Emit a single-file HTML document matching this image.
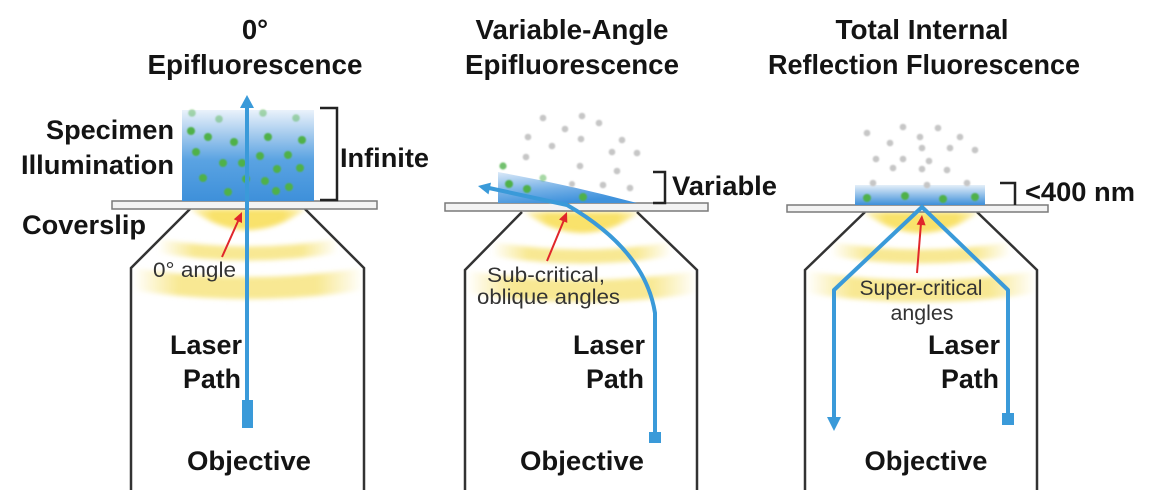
<!DOCTYPE html>
<html>
<head>
<meta charset="utf-8">
<style>
  html,body{margin:0;padding:0;background:#fff;}
  svg{display:block;}
  .b{font-family:"Liberation Sans",Arial,sans-serif;font-weight:bold;font-size:27px;fill:#141414;}
  .t{font-family:"Liberation Sans",Arial,sans-serif;font-weight:bold;font-size:27.5px;fill:#141414;}
  .s{font-family:"Liberation Sans",Arial,sans-serif;font-size:21px;fill:#333;}
</style>
</head>
<body>
<svg width="1150" height="502" viewBox="0 0 1150 502" xmlns="http://www.w3.org/2000/svg">
  <defs>
    <linearGradient id="yg" x1="0" y1="0" x2="1" y2="0">
      <stop offset="0" stop-color="#f6e378" stop-opacity="0"/>
      <stop offset="0.2" stop-color="#f6e378" stop-opacity="0.8"/>
      <stop offset="0.8" stop-color="#f6e378" stop-opacity="0.8"/>
      <stop offset="1" stop-color="#f6e378" stop-opacity="0"/>
    </linearGradient>
    <linearGradient id="yg1" x1="0" y1="0" x2="1" y2="0">
      <stop offset="0" stop-color="#f8e062" stop-opacity="0.35"/>
      <stop offset="0.2" stop-color="#f8e062" stop-opacity="0.95"/>
      <stop offset="0.8" stop-color="#f8e062" stop-opacity="0.95"/>
      <stop offset="1" stop-color="#f8e062" stop-opacity="0.35"/>
    </linearGradient>
    <linearGradient id="b1" x1="0" y1="0" x2="0" y2="1">
      <stop offset="0" stop-color="#eaf2fb"/>
      <stop offset="0.3" stop-color="#9cc6ec"/>
      <stop offset="0.55" stop-color="#5aa3e2"/>
      <stop offset="1" stop-color="#3e90da"/>
    </linearGradient>
    <linearGradient id="b2" x1="0" y1="0" x2="0.4" y2="1">
      <stop offset="0" stop-color="#dbe9f8"/>
      <stop offset="0.6" stop-color="#73afe6"/>
      <stop offset="1" stop-color="#3f92dc"/>
    </linearGradient>
    <linearGradient id="b3" x1="0" y1="0" x2="0" y2="1">
      <stop offset="0" stop-color="#e4eff9"/>
      <stop offset="1" stop-color="#3d8fd9"/>
    </linearGradient>
    <filter id="bl" x="-20%" y="-50%" width="140%" height="200%"><feGaussianBlur stdDeviation="2.5"/></filter>
    <filter id="bl1" x="-50%" y="-50%" width="200%" height="200%"><feGaussianBlur stdDeviation="0.7"/></filter>
  </defs>

  <!-- Yellow illumination bands -->
  <g filter="url(#bl)">
    <path d="M190,209 L306,209 Q248,251 190,209 Z" fill="url(#yg1)"/>
    <path d="M158,246 Q248,261 338,246" fill="none" stroke="url(#yg)" stroke-width="14"/>
    <path d="M133,279 Q248,297 363,279" fill="none" stroke="url(#yg)" stroke-width="22"/>

    <path d="M524,212 L640,212 Q582,254 524,212 Z" fill="url(#yg1)"/>
    <path d="M492,249 Q582,264 672,249" fill="none" stroke="url(#yg)" stroke-width="14"/>
    <path d="M467,282 Q582,300 697,282" fill="none" stroke="url(#yg)" stroke-width="22"/>

    <path d="M863,212 L979,212 Q921,254 863,212 Z" fill="url(#yg1)"/>
    <path d="M831,249 Q921,264 1011,249" fill="none" stroke="url(#yg)" stroke-width="14"/>
    <path d="M806,282 Q921,300 1036,282" fill="none" stroke="url(#yg)" stroke-width="22"/>
  </g>

  <!-- Objectives -->
  <g fill="none" stroke="#333" stroke-width="2.5">
    <polyline points="190,209 131,268 131,490"/>
    <polyline points="305,209 364,268 364,490"/>
    <polyline points="522,212 465,270 465,490"/>
    <polyline points="637,212 697,270 697,490"/>
    <polyline points="865,212 805,270 805,490"/>
    <polyline points="977,212 1037,270 1037,490"/>
  </g>

  <!-- Coverslips -->
  <g fill="#f3f3f3" stroke="#7a7a7a" stroke-width="1.5">
    <rect x="112" y="201" width="265" height="8"/>
    <rect x="445" y="203" width="263" height="8"/>
    <rect x="787" y="205" width="261" height="7"/>
  </g>

  <!-- Specimens -->
  <rect x="182" y="110" width="132" height="91" fill="url(#b1)"/>
  <path d="M498,172 Q570,185 637,203 L498,203 Z" fill="url(#b2)"/>
  <rect x="855" y="185" width="130" height="20" fill="url(#b3)"/>

  <!-- Gray dots -->
  <g fill="#c6c6c6" filter="url(#bl1)">
    <circle cx="543" cy="118" r="3.3"/><circle cx="582" cy="116" r="3.3"/><circle cx="599" cy="123" r="3.3"/>
    <circle cx="565" cy="129" r="3.3"/><circle cx="528" cy="137" r="3.3"/><circle cx="581" cy="139" r="3.3"/>
    <circle cx="622" cy="140" r="3.3"/><circle cx="552" cy="146" r="3.3"/><circle cx="612" cy="152" r="3.3"/>
    <circle cx="637" cy="153" r="3.3"/><circle cx="526" cy="157" r="3.3"/><circle cx="580" cy="166" r="3.3"/>
    <circle cx="617" cy="171" r="3.3"/><circle cx="603" cy="185" r="3.3"/><circle cx="630" cy="188" r="3.3"/>
    <circle cx="572" cy="184" r="3"/>

    <circle cx="867" cy="133" r="3.3"/><circle cx="903" cy="127" r="3.3"/><circle cx="938" cy="128" r="3.3"/>
    <circle cx="920" cy="137" r="3.3"/><circle cx="960" cy="137" r="3.3"/><circle cx="890" cy="143" r="3.3"/>
    <circle cx="922" cy="148" r="3.3"/><circle cx="950" cy="148" r="3.3"/><circle cx="975" cy="150" r="3.3"/>
    <circle cx="876" cy="159" r="3.3"/><circle cx="903" cy="159" r="3.3"/><circle cx="929" cy="161" r="3.3"/>
    <circle cx="893" cy="168" r="3.3"/><circle cx="922" cy="169" r="3.3"/><circle cx="947" cy="170" r="3.3"/>
    <circle cx="873" cy="183" r="3.3"/><circle cx="927" cy="185" r="3.3"/><circle cx="967" cy="183" r="3.3"/>
  </g>

  <!-- Green dots -->
  <g fill="#50b14a" filter="url(#bl1)">
    <g opacity="0.45">
      <circle cx="192" cy="113" r="3.8"/><circle cx="219" cy="119" r="3.8"/>
      <circle cx="263" cy="113" r="3.8"/><circle cx="296" cy="118" r="3.8"/>
    </g>
    <circle cx="191" cy="131" r="4"/><circle cx="208" cy="137" r="4"/><circle cx="234" cy="142" r="4"/>
    <circle cx="268" cy="137" r="4"/><circle cx="302" cy="140" r="4"/><circle cx="196" cy="152" r="4"/>
    <circle cx="223" cy="163" r="4"/><circle cx="242" cy="163" r="4"/><circle cx="260" cy="156" r="4"/>
    <circle cx="288" cy="155" r="4"/><circle cx="277" cy="169" r="4"/><circle cx="300" cy="168" r="4"/>
    <circle cx="203" cy="178" r="4"/><circle cx="246" cy="179" r="4"/><circle cx="265" cy="181" r="4"/>
    <circle cx="228" cy="192" r="4"/><circle cx="276" cy="191" r="4"/><circle cx="289" cy="187" r="4"/>

    <circle cx="503" cy="166" r="3.6" opacity="0.8"/><circle cx="509" cy="184" r="4"/>
    <circle cx="527" cy="189" r="4"/><circle cx="543" cy="178" r="3.5" opacity="0.5"/>
    <circle cx="583" cy="197" r="4"/>

    <circle cx="867" cy="198" r="4"/><circle cx="905" cy="196" r="4"/>
    <circle cx="943" cy="199" r="4"/><circle cx="975" cy="197" r="4"/>
  </g>

  <!-- Brackets -->
  <g fill="none" stroke="#222" stroke-width="2.5">
    <path d="M320,108 L337,108 L337,200 L320,200"/>
    <path d="M653,172 L665,172 L665,203 L653,203"/>
    <path d="M1000,183 L1015,183 L1015,205"/>
  </g>

  <!-- Laser paths -->
  <g stroke="#3a9ad9" stroke-width="4" fill="none" stroke-linejoin="round">
    <line x1="247" y1="106" x2="247" y2="402"/>
    <path d="M655,434 L655,313 Q645,250 567,205 L489,188"/>
    <path d="M1008,414 L1008,290 L922,207 L834,290 L834,419"/>
  </g>
  <g fill="#3a9ad9">
    <polygon points="247,95 240,108 254,108"/>
    <rect x="242" y="400" width="11" height="28"/>
    <polygon points="478,186 491,182.6 488.5,194.4"/>
    <rect x="649" y="432" width="12" height="11"/>
    <polygon points="834,431 827,417 841,417"/>
    <rect x="1002" y="413" width="12" height="12"/>
  </g>

  <!-- Red arrows -->
  <g stroke="#e0262b" stroke-width="2" fill="none">
    <line x1="222" y1="257" x2="239" y2="219"/>
    <line x1="547" y1="261" x2="564" y2="220"/>
    <line x1="917" y1="273" x2="921" y2="223"/>
  </g>
  <g fill="#e0262b">
    <polygon points="242,212 242,223 233.8,219.2"/>
    <polygon points="567,212 567.3,222.9 559,219.5"/>
    <polygon points="922,215 925.6,225.4 916.6,224.6"/>
  </g>

  <!-- Titles -->
  <text class="t" x="255" y="39" text-anchor="middle">0°</text>
  <text class="t" x="255" y="74" text-anchor="middle" textLength="215" lengthAdjust="spacingAndGlyphs">Epifluorescence</text>
  <text class="t" x="572" y="39" text-anchor="middle" textLength="193" lengthAdjust="spacingAndGlyphs">Variable-Angle</text>
  <text class="t" x="572" y="74" text-anchor="middle" textLength="214" lengthAdjust="spacingAndGlyphs">Epifluorescence</text>
  <text class="t" x="922" y="39" text-anchor="middle" textLength="173" lengthAdjust="spacingAndGlyphs">Total Internal</text>
  <text class="t" x="924" y="74" text-anchor="middle" textLength="312" lengthAdjust="spacingAndGlyphs">Reflection Fluorescence</text>

  <!-- Side labels -->
  <text class="b" x="174" y="139" text-anchor="end" textLength="128" lengthAdjust="spacingAndGlyphs">Specimen</text>
  <text class="b" x="174" y="174" text-anchor="end" textLength="153" lengthAdjust="spacingAndGlyphs">Illumination</text>
  <text class="b" x="22" y="234" textLength="124" lengthAdjust="spacingAndGlyphs">Coverslip</text>
  <text class="b" x="340" y="167" textLength="89" lengthAdjust="spacingAndGlyphs">Infinite</text>
  <text class="b" x="672" y="195" textLength="105" lengthAdjust="spacingAndGlyphs">Variable</text>
  <text class="b" x="1025" y="201" textLength="110" lengthAdjust="spacingAndGlyphs">&lt;400 nm</text>

  <!-- Laser Path / Objective -->
  <text class="b" x="242" y="354" text-anchor="end" textLength="72" lengthAdjust="spacingAndGlyphs">Laser</text>
  <text class="b" x="241" y="388" text-anchor="end" textLength="58" lengthAdjust="spacingAndGlyphs">Path</text>
  <text class="b" x="249" y="470" text-anchor="middle" textLength="124" lengthAdjust="spacingAndGlyphs">Objective</text>

  <text class="b" x="645" y="354" text-anchor="end" textLength="72" lengthAdjust="spacingAndGlyphs">Laser</text>
  <text class="b" x="644" y="388" text-anchor="end" textLength="58" lengthAdjust="spacingAndGlyphs">Path</text>
  <text class="b" x="582" y="470" text-anchor="middle" textLength="124" lengthAdjust="spacingAndGlyphs">Objective</text>

  <text class="b" x="1000" y="354" text-anchor="end" textLength="72" lengthAdjust="spacingAndGlyphs">Laser</text>
  <text class="b" x="999" y="388" text-anchor="end" textLength="58" lengthAdjust="spacingAndGlyphs">Path</text>
  <text class="b" x="926" y="470" text-anchor="middle" textLength="123" lengthAdjust="spacingAndGlyphs">Objective</text>

  <!-- Small labels -->
  <text class="s" x="153" y="277" textLength="83" lengthAdjust="spacingAndGlyphs">0° angle</text>
  <text class="s" x="487" y="282" textLength="118" lengthAdjust="spacingAndGlyphs">Sub-critical,</text>
  <text class="s" x="477" y="304" textLength="143" lengthAdjust="spacingAndGlyphs">oblique angles</text>
  <text class="s" x="921" y="295" text-anchor="middle" textLength="123" lengthAdjust="spacingAndGlyphs">Super-critical</text>
  <text class="s" x="922" y="320" text-anchor="middle" textLength="63" lengthAdjust="spacingAndGlyphs">angles</text>
</svg>
</body>
</html>
